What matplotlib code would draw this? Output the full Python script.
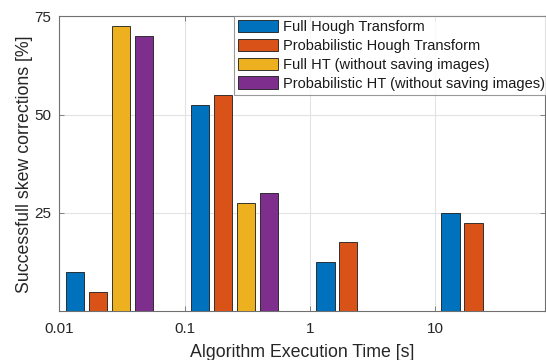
import numpy as np
import matplotlib
matplotlib.use("Agg")
import matplotlib.pyplot as plt

plt.rcParams['font.family'] = ['Liberation Sans', 'DejaVu Sans']

# Execution-time bins (lower edge of each decade) and success rates [%]
time_bins = [0.01, 0.1, 1, 10]
full_ht = [10, 52.5, 12.5, 25]
prob_ht = [5, 55, 17.5, 22.5]
full_ht_nosave = [72.5, 27.5, np.nan, np.nan]
prob_ht_nosave = [70, 30, np.nan, np.nan]

series_labels = [
    "Full Hough Transform",
    "Probabilistic Hough Transform",
    "Full HT (without saving images)",
    "Probabilistic HT (without saving images)",
]
series_values = [full_ht, prob_ht, full_ht_nosave, prob_ht_nosave]
colors = ["#0072BD", "#D95319", "#EDB120", "#7E2F8E"]

x_ticks = [0.01, 0.1, 1, 10]
x_ticklabels = ["0.01", "0.1", "1", "10"]
y_ticks = [25, 50, 75]

fig = plt.figure(figsize=(5.46, 3.60), dpi=100)
ax = fig.add_axes([0.1086, 0.1353, 0.8894, 0.8194])
ax.set_xscale("log")

# bar layout within each decade (in decades)
first_offset = 0.052
pitch = 0.183
bar_w = 0.146

handles = []
for i, (vals, col, lab) in enumerate(zip(series_values, colors, series_labels)):
    lefts = np.array([t * 10 ** (first_offset + i * pitch) for t in time_bins])
    widths = lefts * (10 ** bar_w - 1)
    h = ax.bar(lefts, vals, width=widths, align="edge", color=col,
               edgecolor="#1a1a1a", linewidth=0.6, label=lab, zorder=3)
    handles.append(h)

ax.set_xlim(0.01, 75.5)
ax.set_ylim(0, 75)
ax.set_xticks(x_ticks)
ax.set_xticklabels(x_ticklabels)
ax.xaxis.set_minor_locator(matplotlib.ticker.NullLocator())
ax.set_yticks(y_ticks)

ax.grid(True, which="major", color="#e3e3e3", linewidth=0.8, zorder=0)
ax.set_axisbelow(True)
for s in ax.spines.values():
    s.set_color("#707070")
    s.set_linewidth(0.8)

ax.tick_params(axis="both", which="both", direction="in", length=3.5,
               width=0.6, color="#707070", labelsize=11, labelcolor="#262626",
               top=True, right=True)
ax.tick_params(axis="x", pad=8)
ax.tick_params(axis="y", pad=6)

ax.set_xlabel("Algorithm Execution Time [s]", fontsize=12.8, color="#262626",
              labelpad=5.5)
ax.set_ylabel("Successfull skew corrections [%]", fontsize=12.8,
              color="#262626", labelpad=1)

leg = ax.legend(handles=handles, loc="upper right",
                bbox_to_anchor=(1.005, 1 - 15.7 / 360),
                bbox_transform=fig.transFigure,
                fontsize=10.5, frameon=True, fancybox=False,
                handlelength=2.7, handleheight=0.93, handletextpad=0.35,
                labelspacing=0.32, borderpad=0.28, borderaxespad=0.0)
leg.get_frame().set_edgecolor("#808080")
leg.get_frame().set_linewidth(0.8)
leg.set_zorder(5)
for t in leg.get_texts():
    t.set_color("#1a1a1a")

fig.savefig("out.png", dpi=100)
